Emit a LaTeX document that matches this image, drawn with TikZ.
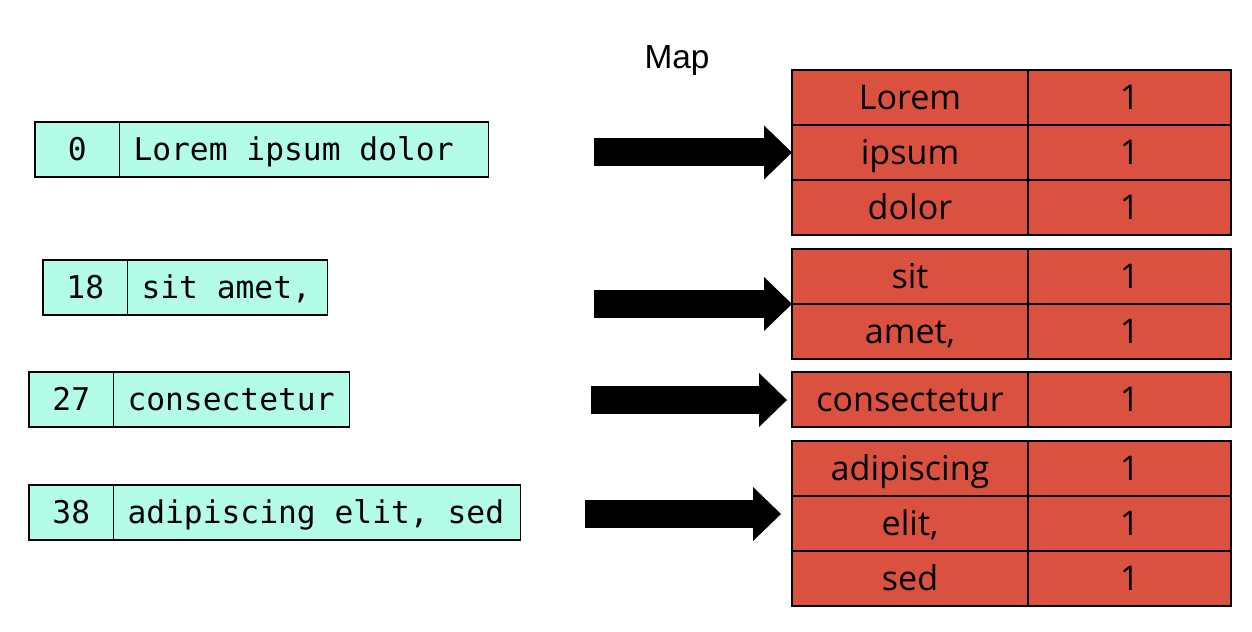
\documentclass[tikz,border=0pt]{standalone}
\usepackage{fontspec}
\setmainfont{Open Sans}
\setmonofont{DejaVu Sans Mono}
\newfontfamily\mapfont{Liberation Sans}
\usetikzlibrary{positioning,arrows.meta}
\definecolor{seafoam}{RGB}{178,252,232}
\definecolor{brick}{RGB}{219,81,63}

\begin{document}
\begin{tikzpicture}[
    cell/.style = {draw, line width=0.8pt, outer sep=0pt, inner sep=0pt, minimum height=1.1cm},
    idx/.style = {cell, fill=seafoam, minimum width=1.69cm, text height=13pt, text depth=0pt, font=\ttfamily\fontsize{17.8}{20}\selectfont},
    chunk/.style = {cell, fill=seafoam, text width=#1, align=flush left, inner xsep=0.28cm, text height=13pt, text depth=0pt, font=\ttfamily\fontsize{17.8}{20}\selectfont},
    word/.style = {cell, fill=brick, minimum width=4.72cm, text height=14pt, text depth=0pt, font=\fontsize{19.4}{22}\selectfont},
    freq/.style = {cell, fill=brick, minimum width=4.06cm, text height=14pt, text depth=0pt, font=\fontsize{19.4}{22}\selectfont},
    bigarrow/.style = {line width=0.56cm, -{Triangle[length=0.56cm, width=1.08cm, line width=0pt]}}
]
    \useasboundingbox (0,0) rectangle (25.04,-12.62);

    % input splits
    \node[idx, anchor=north west] (i0) at (0.70,-2.44) {0};
    \node[chunk=6.82cm, right=0pt of i0] (c0) {Lorem ipsum dolor};
    \node[idx, anchor=north west] (i18) at (0.86,-5.20) {18};
    \node[chunk=3.44cm, right=0pt of i18] (c18) {sit amet,};
    \node[idx, anchor=north west] (i27) at (0.58,-7.44) {27};
    \node[chunk=4.16cm, right=0pt of i27] (c27) {consectetur};
    \node[idx, anchor=north west] (i38) at (0.58,-9.70) {38};
    \node[chunk=7.58cm, right=0pt of i38] (c38) {adipiscing elit, sed};

    \node[font=\mapfont\fontsize{19}{22}\selectfont] (maptitle) at (13.54,-1.20) {Map};

    % map output
    \node[word, anchor=north west] (lorem) at (15.84,-1.40) {Lorem};
    \node[word, below=0pt of lorem] (ipsum) {ipsum};
    \node[word, below=0pt of ipsum] (dolor) {dolor};
    \node[word, anchor=north west] (sit) at (15.84,-4.98) {sit};
    \node[word, below=0pt of sit] (amet) {amet,};
    \node[word, anchor=north west] (consectetur) at (15.84,-7.44) {consectetur};
    \node[word, anchor=north west] (adipiscing) at (15.84,-8.82) {adipiscing};
    \node[word, below=0pt of adipiscing] (elit) {elit,};
    \node[word, below=0pt of elit] (sed) {sed};
    \foreach \w in {lorem,ipsum,dolor,sit,amet,consectetur,adipiscing,elit,sed}
        \node[freq, right=0pt of \w] (n-\w) {1};

    \coordinate (a1) at (11.88,-3.05);
    \coordinate (a2) at (11.88,-6.08);
    \coordinate (a3) at (11.82,-8.00);
    \coordinate (a4) at (11.70,-10.28);
    \draw[bigarrow] (a1) -- (a1 -| ipsum.west);
    \draw[bigarrow] (a2) -- (a2 -| sit.west);
    \draw[bigarrow, shorten >=0.1cm] (a3) -- (a3 -| consectetur.west);
    \draw[bigarrow, shorten >=0.22cm] (a4) -- (a4 -| elit.west);

\end{tikzpicture}
\end{document}
